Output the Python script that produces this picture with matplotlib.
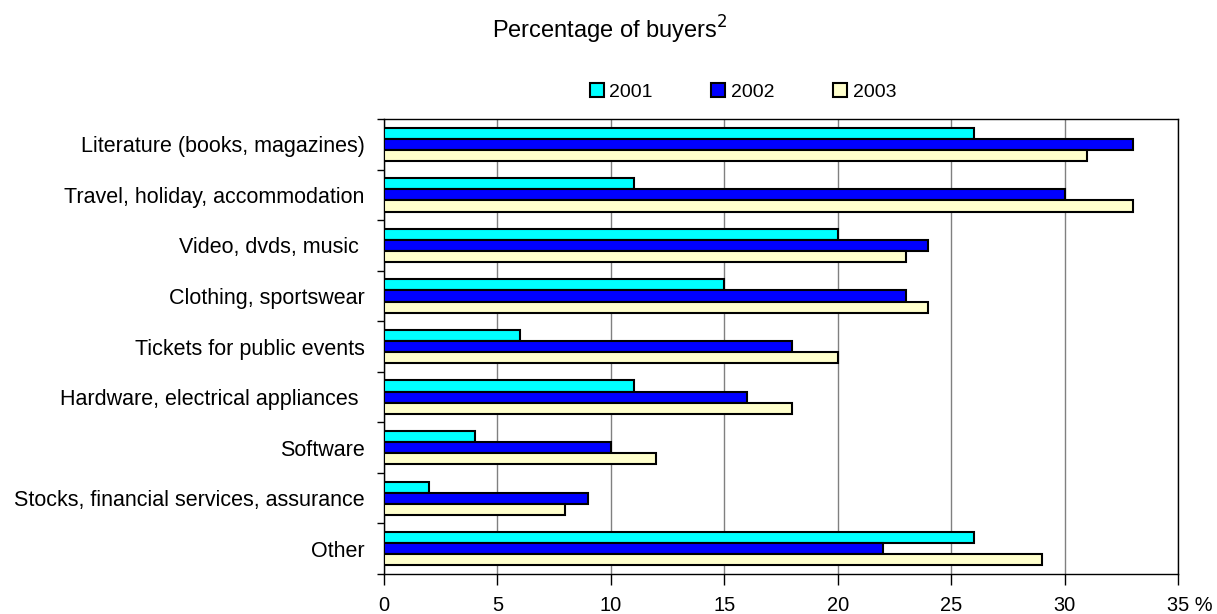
import matplotlib.pyplot as plt
import matplotlib.transforms as mtransforms
import numpy as np

plt.rcParams['font.family'] = ['Liberation Sans', 'DejaVu Sans']

categorias = ['Literature (books, magazines)', 'Travel, holiday, accommodation',
              'Video, dvds, music ', 'Clothing, sportswear', 'Tickets for public events',
              'Hardware, electrical appliances ', 'Software',
              'Stocks, financial services, assurance', 'Other']
anos = ['2001', '2002', '2003']
v2001 = [26, 11, 20, 15, 6, 11, 4, 2, 26]
v2002 = [33, 30, 24, 23, 18, 16, 10, 9, 22]
v2003 = [31, 33, 23, 24, 20, 18, 12, 8, 29]
cores = ['#00FFFF', '#0000FF', '#FFFFCC']
xticks = [0, 5, 10, 15, 20, 25, 30, 35]
xrotulos = ['0', '5', '10', '15', '20', '25', '30', '35 %']

fig = plt.figure(figsize=(12.17, 6.14), dpi=100)
ax = fig.add_axes([0.3155, 0.0651, 0.968 - 0.3155, 0.806 - 0.0651])

n = len(categorias)
y = np.arange(n)
h = 0.22
for i, vals in enumerate([v2001, v2002, v2003]):
    ax.barh(y + (i - 1) * h, vals, height=h, color=cores[i], edgecolor='black',
            linewidth=1.5, label=anos[i], zorder=3)

ax.set_ylim(n - 0.5, -0.5)
ax.set_xlim(0, 35)

# rotulos das categorias no centro, ticks nas divisoes
ax.set_yticks(y)
ax.set_yticklabels(categorias, fontsize=15.5)
ax.set_yticks(np.arange(n + 1) - 0.5, minor=True)
ax.tick_params(axis='y', which='major', length=0, pad=14)
ax.tick_params(axis='y', which='minor', length=5, width=1, direction='out')

ax.set_xticks(xticks)
ax.set_xticklabels(xrotulos, fontsize=14.4)
ax.tick_params(axis='x', length=8, width=1, direction='out', pad=8)
# o ultimo rotulo leva o "%": alinhar o "35" sobre o tick
ult = ax.get_xticklabels()[-1]
ult.set_horizontalalignment('left')
ult.set_transform(ult.get_transform() + mtransforms.ScaledTranslation(-0.11, 0, fig.dpi_scale_trans))

ax.grid(axis='x', color='#808080', linewidth=1, zorder=0)
for s in ['top', 'right', 'left', 'bottom']:
    ax.spines[s].set_linewidth(1)
    ax.spines[s].set_color('black')

fig.text(0.501, 0.951, 'Percentage of buyers$^2$', ha='center', va='center', fontsize=17)

leg = fig.legend(loc='center', bbox_to_anchor=(0.6105, 0.85), ncol=3, frameon=False,
                 fontsize=14, handlelength=0.72, handleheight=0.72, handletextpad=0.3,
                 columnspacing=3.0, borderpad=0)

fig.savefig('out.png', dpi=100)
